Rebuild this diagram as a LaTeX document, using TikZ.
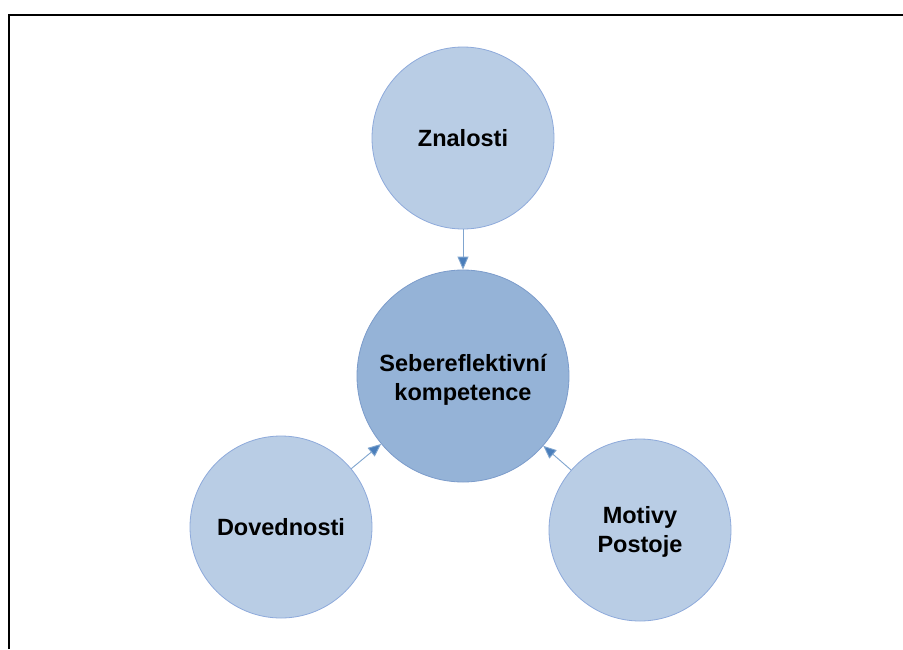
\documentclass[tikz,border=0pt]{standalone}
\usepackage{fontspec}
\setmainfont{Liberation Sans}
\usetikzlibrary{arrows.meta}
\definecolor{outerfill}{HTML}{B9CDE5}
\definecolor{outerline}{HTML}{8EAADB}
\definecolor{corefill}{HTML}{95B3D7}
\definecolor{coreline}{HTML}{7C9CCB}
\definecolor{linkcol}{HTML}{4A7EBB}
\begin{document}
\begin{tikzpicture}[x=1pt,y=-1pt,
  label text/.style={font=\bfseries\fontsize{23.5}{29.5}\selectfont,align=center,text=black},
  outer/.style={circle,fill=outerfill,draw=outerline,line width=0.8pt,minimum size=182pt,inner sep=0pt,label text},
  core/.style={circle,fill=corefill,draw=coreline,line width=0.8pt,minimum size=212pt,inner sep=0pt,label text},
  link/.style={draw=linkcol!70,line width=0.9pt,-{Triangle[length=13pt,width=11pt,fill=linkcol]}}]
  \useasboundingbox (0,0) rectangle (903,649);
  \fill[white] (0,0) rectangle (903,649);
  % frame
  \draw[line width=1.4pt] (9,649) -- (9,15) -- (903,15);
  % circles
  \node[outer] (zn) at (463,138) {Znalosti};
  \node[core] (sk) at (463,376) {};
  \node[label text] (skt) at (463,380) {Sebereflektivní\\kompetence};
  \node[outer] (dv) at (281,527) {Dovednosti};
  \node[outer] (mp) at (640,530) {};
  \node[label text] (mpt) at (640,532) {Motivy\\Postoje};
  % links
  \draw[link] (zn) -- (sk);
  \draw[link] (dv) -- (sk);
  \draw[link] (mp) -- (sk);
\end{tikzpicture}
\end{document}
